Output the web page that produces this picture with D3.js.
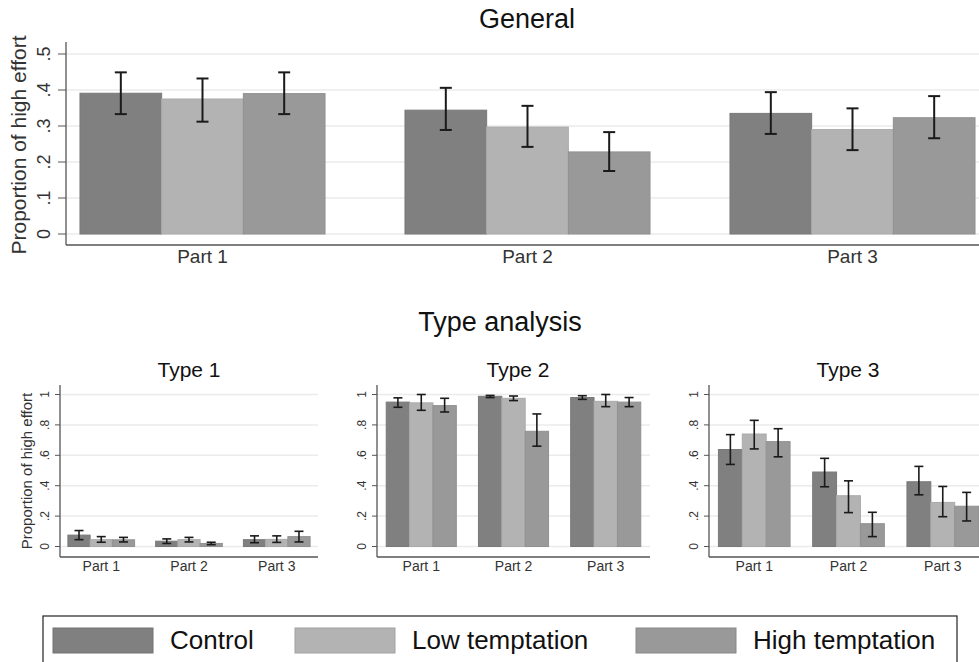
<!DOCTYPE html>
<html>
<head>
<meta charset="utf-8">
<script src="https://cdn.jsdelivr.net/npm/d3@7"></script>
<style>
  body { margin: 0; background: #fff; }
  svg { font-family: "Liberation Sans", Arial, sans-serif; }
</style>
</head>
<body>
<svg id="chart" width="979" height="662"></svg>
<script>
const parts = ["Part 1", "Part 2", "Part 3"];
const groups = ["Control", "Low temptation", "High temptation"];
const colors = ["#808080", "#b3b3b3", "#999999"];

// values per part: [control, low, high]
const generalMean = [[0.391, 0.375, 0.390], [0.344, 0.297, 0.228], [0.335, 0.290, 0.323]];
const generalLo   = [[0.333, 0.312, 0.333], [0.289, 0.242, 0.175], [0.278, 0.233, 0.266]];
const generalHi   = [[0.449, 0.432, 0.449], [0.406, 0.356, 0.283], [0.394, 0.349, 0.383]];

const type1Mean = [[0.075, 0.045, 0.044], [0.035, 0.045, 0.020], [0.045, 0.047, 0.065]];
const type1Lo   = [[0.045, 0.028, 0.030], [0.020, 0.030, 0.012], [0.025, 0.027, 0.030]];
const type1Hi   = [[0.105, 0.065, 0.060], [0.050, 0.060, 0.028], [0.070, 0.070, 0.100]];

const type2Mean = [[0.950, 0.945, 0.927], [0.988, 0.975, 0.758], [0.980, 0.955, 0.950]];
const type2Lo   = [[0.916, 0.896, 0.885], [0.980, 0.960, 0.660], [0.968, 0.920, 0.920]];
const type2Hi   = [[0.978, 1.000, 0.975], [0.994, 0.990, 0.872], [0.992, 1.000, 0.980]];

const type3Mean = [[0.638, 0.740, 0.690], [0.490, 0.334, 0.150], [0.426, 0.290, 0.265]];
const type3Lo   = [[0.540, 0.642, 0.590], [0.393, 0.223, 0.065], [0.340, 0.196, 0.168]];
const type3Hi   = [[0.736, 0.830, 0.775], [0.580, 0.432, 0.225], [0.527, 0.395, 0.356]];

const generalTicks = [0, 0.1, 0.2, 0.3, 0.4, 0.5];
const typeTicks = [0, 0.2, 0.4, 0.6, 0.8, 1];
const fmt = v => v === 0 ? "0" : v === 1 ? "1" : String(v).replace(/^0/, "");

const svg = d3.select("#chart");

function panel(o) {
  const g = svg.append("g");
  const x = d3.scaleBand().domain(parts).range([o.x0, o.x1])
    .paddingInner(o.padIn).paddingOuter(o.padOut);
  const xi = d3.scaleBand().domain(d3.range(3)).range([0, x.bandwidth()]);
  const y = d3.scaleLinear().domain([0, o.max]).range([o.y0, o.y1]);

  // grid
  g.selectAll(".grid").data(o.ticks).enter().append("line")
    .attr("x1", o.x0).attr("x2", o.gridEnd)
    .attr("y1", d => y(d)).attr("y2", d => y(d))
    .attr("stroke", "#ebebeb").attr("stroke-width", 1.5);

  // bars
  const rows = [];
  parts.forEach((p, i) => d3.range(3).forEach(j => rows.push({
    p, j, v: o.mean[i][j], lo: o.lo[i][j], hi: o.hi[i][j]
  })));
  g.selectAll(".bar").data(rows).enter().append("rect")
    .attr("x", d => x(d.p) + xi(d.j))
    .attr("width", xi.bandwidth())
    .attr("y", d => y(d.v))
    .attr("height", d => y(0) - y(d.v))
    .attr("fill", d => colors[d.j])
    .attr("stroke", d => d3.color(colors[d.j]).darker(0.15))
    .attr("stroke-width", 1);

  // error bars
  const cx = d => x(d.p) + xi(d.j) + xi.bandwidth() / 2;
  const eb = g.selectAll(".err").data(rows).enter().append("g")
    .attr("stroke", "#1a1a1a").attr("stroke-width", o.errW);
  eb.append("line").attr("x1", cx).attr("x2", cx)
    .attr("y1", d => y(d.lo)).attr("y2", d => y(d.hi));
  eb.append("line").attr("x1", d => cx(d) - o.cap).attr("x2", d => cx(d) + o.cap)
    .attr("y1", d => y(d.lo)).attr("y2", d => y(d.lo));
  eb.append("line").attr("x1", d => cx(d) - o.cap).attr("x2", d => cx(d) + o.cap)
    .attr("y1", d => y(d.hi)).attr("y2", d => y(d.hi));

  // axes lines
  g.append("line").attr("x1", o.x0).attr("x2", o.x0)
    .attr("y1", o.axisTop).attr("y2", o.axisY)
    .attr("stroke", "#555").attr("stroke-width", 1.3);
  g.append("line").attr("x1", o.x0).attr("x2", o.gridEnd)
    .attr("y1", o.axisY).attr("y2", o.axisY)
    .attr("stroke", "#555").attr("stroke-width", 1.3);

  // y ticks
  g.selectAll(".tk").data(o.ticks).enter().append("line")
    .attr("x1", o.x0 - o.tickLen).attr("x2", o.x0)
    .attr("y1", d => y(d)).attr("y2", d => y(d))
    .attr("stroke", "#555").attr("stroke-width", 1);
  g.selectAll(".tl").data(o.ticks).enter().append("text")
    .attr("transform", d => `translate(${o.x0 - o.tickPad},${y(d)}) rotate(-90)`)
    .attr("text-anchor", "middle")
    .attr("font-size", o.tickFont).attr("fill", "#333")
    .text(fmt);

  // x labels
  g.selectAll(".xl").data(parts).enter().append("text")
    .attr("x", d => x(d) + x.bandwidth() / 2).attr("y", o.axisY + o.xLabOff)
    .attr("text-anchor", "middle").attr("font-size", o.xFont).attr("fill", "#333")
    .text(d => d);

  // title
  g.append("text").attr("x", o.titleX).attr("y", o.titleY)
    .attr("text-anchor", "middle").attr("font-size", o.titleFont).attr("fill", "#111")
    .text(o.title);

  if (o.yTitle) {
    g.append("text")
      .attr("transform", `translate(${o.yTitleX},${o.yTitleY}) rotate(-90)`)
      .attr("text-anchor", "middle").attr("font-size", o.yTitleFont).attr("fill", "#333")
      .text(o.yTitle);
  }
}

panel({
  title: "General", titleX: 527, titleY: 28, titleFont: 27,
  x0: 66, x1: 989, gridEnd: 979, padIn: 0.246, padOut: 0.043,
  y0: 234, y1: 54, max: 0.5, ticks: generalTicks,
  axisTop: 42, axisY: 245, tickLen: 8, tickPad: 16, tickFont: 18,
  xFont: 19, xLabOff: 18, cap: 6, errW: 2,
  mean: generalMean, lo: generalLo, hi: generalHi,
  yTitle: "Proportion of high effort", yTitleX: 26, yTitleY: 145, yTitleFont: 21
});

svg.append("text").attr("x", 500).attr("y", 331)
  .attr("text-anchor", "middle").attr("font-size", 27).attr("fill", "#111")
  .text("Type analysis");

const small = {
  titleY: 377, titleFont: 21, y0: 546.5, y1: 394.5, max: 1, ticks: typeTicks,
  axisTop: 385, axisY: 557, tickLen: 5, tickPad: 11, tickFont: 12,
  xFont: 14, xLabOff: 14, cap: 4.5, errW: 1.6
};

panel(Object.assign({}, small, {
  title: "Type 1", titleX: 189, x0: 60, x1: 318, gridEnd: 318,
  padIn: 0.24, padOut: 0.09,
  mean: type1Mean, lo: type1Lo, hi: type1Hi,
  yTitle: "Proportion of high effort", yTitleX: 32, yTitleY: 471, yTitleFont: 15
}));

panel(Object.assign({}, small, {
  title: "Type 2", titleX: 518, x0: 377, x1: 650, gridEnd: 650,
  padIn: 0.24, padOut: 0.1,
  mean: type2Mean, lo: type2Lo, hi: type2Hi
}));

panel(Object.assign({}, small, {
  title: "Type 3", titleX: 848, x0: 709, x1: 988, gridEnd: 979,
  padIn: 0.24, padOut: 0.1,
  mean: type3Mean, lo: type3Lo, hi: type3Hi
}));

// legend
const legX = [53, 295, 636];
const leg = svg.append("g");
leg.append("rect").attr("x", 43).attr("y", 616).attr("width", 914).attr("height", 60)
  .attr("fill", "none").attr("stroke", "#333").attr("stroke-width", 1.3);
const li = leg.selectAll(".li").data(groups).enter().append("g")
  .attr("transform", (d, i) => `translate(${legX[i]},628)`);
li.append("rect").attr("width", 100).attr("height", 25)
  .attr("fill", (d, i) => colors[i])
  .attr("stroke", (d, i) => d3.color(colors[i]).darker(0.3));
li.append("text").attr("x", 117).attr("y", 21)
  .attr("font-size", 26).attr("fill", "#111").text(d => d);
</script>
</body>
</html>
